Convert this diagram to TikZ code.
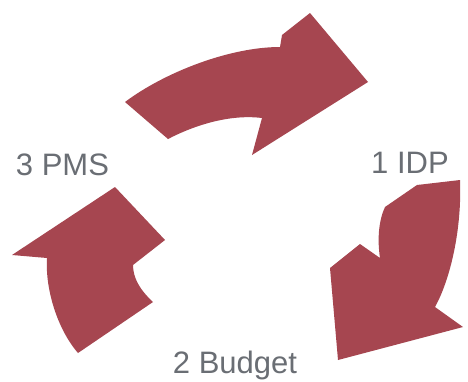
\documentclass[tikz,border=0pt]{standalone}
\usepackage{fontspec}
\setmainfont{Liberation Sans}
\definecolor{arrowred}{RGB}{166,70,80}
\definecolor{labelgray}{RGB}{106,110,116}
\begin{document}
\begin{tikzpicture}[x=1pt,y=-1pt,
  cyclearrow/.style={fill=arrowred,draw=none},
  steplabel/.style={text=labelgray,font=\fontsize{31}{37}\selectfont,inner sep=0pt,anchor=base}]
\useasboundingbox[fill=white] (0,0) rectangle (468,381);
% top arrow (towards IDP)
\fill[cyclearrow] (125,102) .. controls (165,72) and (230,47) .. (280,47)
  -- (282,35) -- (310,13) -- (368,82) -- (252,155) -- (262,118)
  .. controls (230,114) and (195,125) .. (168,139) -- cycle;
% right arrow (towards Budget)
\fill[cyclearrow] (417,185) -- (460,180) .. controls (462,230) and (450,280) .. (435,307)
  -- (463,327) -- (338,360) -- (330,268) -- (360,244) -- (380,258)
  .. controls (377,238) and (379,220) .. (385,207) -- cycle;
% left arrow (towards PMS)
\fill[cyclearrow] (78,353) -- (153,302) .. controls (140,290) and (133,278) .. (133,265)
  -- (165,240) -- (115,187) -- (12,255) -- (47,258)
  .. controls (45,290) and (58,330) .. (78,353) -- cycle;
\node[steplabel] (pms) at (62.5,175) {3 PMS};
\node[steplabel] (idp) at (410,173) {1 IDP};
\node[steplabel] (budget) at (235,373) {2 Budget};
\end{tikzpicture}
\end{document}
